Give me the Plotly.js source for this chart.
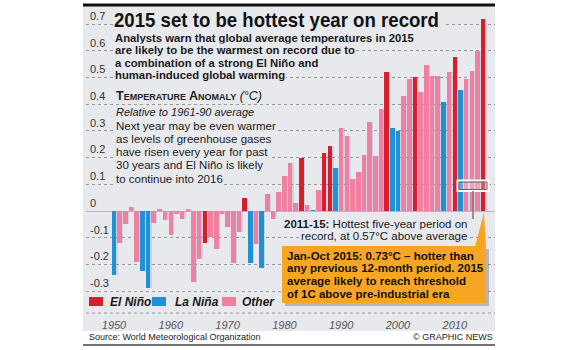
<!DOCTYPE html>
<html><head><meta charset="utf-8">
<script src="https://cdn.plot.ly/plotly-3.0.1.min.js"></script>
<style>html,body{margin:0;padding:0;background:#fff}</style>
</head><body><div id="chart" style="width:580px;height:350px"></div>
<script>
// ---- data ----
const years = [1950,1951,1952,1953,1954,1955,1956,1957,1958,1959,
  1960,1961,1962,1963,1964,1965,1966,1967,1968,1969,
  1970,1971,1972,1973,1974,1975,1976,1977,1978,1979,
  1980,1981,1982,1983,1984,1985,1986,1987,1988,1989,
  1990,1991,1992,1993,1994,1995,1996,1997,1998,1999,
  2000,2001,2002,2003,2004,2005,2006,2007,2008,2009,
  2010,2011,2012,2013,2014,2015];
const anomaly = [-0.24,-0.12,-0.05,0.014,-0.19,-0.225,-0.287,-0.044,0.006,-0.035,
  -0.09,-0.012,-0.03,0.006,-0.265,-0.18,-0.12,-0.099,-0.142,-0.013,
  -0.061,-0.195,-0.077,0.047,-0.194,-0.125,-0.215,0.062,-0.03,0.07,
  0.131,0.178,0.031,0.197,0.021,0.005,0.079,0.217,0.245,0.161,
  0.311,0.282,0.119,0.145,0.21,0.335,0.205,0.382,0.519,0.31,
  0.30,0.431,0.494,0.502,0.447,0.547,0.507,0.507,0.408,0.519,
  0.578,0.453,0.493,0.526,0.598,0.718];
const phase = ['L','O','O','O','O','L','L','O','O','O',
  'O','O','O','O','O','O','E','O','O','O',
  'O','O','O','E','L','O','L','O','O','O',
  'O','O','O','E','O','L','O','E','E','L',
  'O','O','O','O','O','O','O','O','E','L',
  'L','O','O','E','O','O','O','O','L','O',
  'E','L','O','O','O','E'];
const categories = ['E','L','O'];
const categoryNames = {E:'El Niño', L:'La Niña', O:'Other'};
const yTicks = [-0.3,-0.2,-0.1,0,0.1,0.2,0.3,0.4,0.5,0.6,0.7];
const yTickText = ['-0.3','-0.2','-0.1','0','0.1','0.2','0.3','0.4','0.5','0.6','0.7'];
const xTicks = [1950,1960,1970,1980,1990,2000,2010];
const xTickText = ['1950','1960','1970','1980','1990','2000','2010'];

// ---- styles ----
const COLORS = {E:'#d81e2c', L:'#2191d6', O:'#f07fa1'};
const PANEL = '#e7e9ed';
const SANS = 'Liberation Sans, Arial, Helvetica, sans-serif';
const TXT = '#1a1a1a';

const W = 580, H = 350, ML = 86, MR = 85, MT = 8, MB = 37;
const PW = W - ML - MR, PH = H - MT - MB;
const X = px => (px - ML) / PW;
const Y = py => (H - MB - py) / PH;

const traces = [];
traces.push({type:'bar', x: years, y: anomaly, width: 0.95, offset: -0.3,
  marker:{color:'rgba(95,135,180,0.22)', line:{width:0}}, hoverinfo:'skip', showlegend:false});
categories.forEach(c => {
  traces.push({type:'bar', name: categoryNames[c], x: years,
    y: anomaly.map((v,i) => phase[i] === c ? v : null),
    width: 0.8, marker:{color: COLORS[c], line:{width:0}}, showlegend:false});
});

const annotations = [];
function ann(text, xpx, ypx, font, opts) {
  annotations.push(Object.assign({text, x: X(xpx), y: Y(ypx), xref:'paper', yref:'paper',
    xanchor:'left', yanchor:'middle', showarrow:false, align:'left',
    bgcolor: PANEL, borderpad: 0,
    font: Object.assign({family: SANS, size: 11.5, color: TXT}, font)}, opts || {}));
}
ann('2015 set to be hottest year on record', 113, 19, {size: 20.5, weight: 'bold', color:'#111'});
const sub = ['Analysts warn that global average temperatures in 2015',
  'are likely to be the warmest on record due to',
  'a combination of a strong El Niño and',
  'human-induced global warming'];
sub.forEach((t,i) => ann(t, 114, 37.5 + i*12.6, {size: 11.3, weight: 'bold'}));
ann('<b>Temperature Anomaly</b> <i>(°C)</i>', 115, 96.5, {size: 12.5, variant:'small-caps', color:'#222'});
ann('<i>Relative to 1961-90 average</i>', 115, 111.5, {size: 11, color:'#222'});
const body = ['Next year may be even warmer','as levels of greenhouse gases',
  'have risen every year for past','30 years and El Niño is likely','to continue into 2016'];
body.forEach((t,i) => ann(t, 115, 125.5 + i*13.3, {size: 11.5}));
ann('<b>2011-15:</b> Hottest five-year period on', 468, 224, {size: 11.5}, {xanchor:'right', align:'right'});
ann('record, at 0.57°C above average', 468, 236, {size: 11.5}, {xanchor:'right', align:'right'});
const orange = ['Jan-Oct 2015: 0.73°C – hotter than','any previous 12-month period. 2015',
  'average likely to reach threshold','of 1C above pre-industrial era'];
orange.forEach((t,i) => ann(t, 286, 255.5 + i*12.8, {size: 11.5, weight:'bold', color:'#111'}, {bgcolor:'rgba(0,0,0,0)'}));
ann('El Niño', 109, 302, {size: 12, weight:'bold', style:'italic'}, {bgcolor:'rgba(0,0,0,0)'});
ann('La Niña', 174, 302, {size: 12, weight:'bold', style:'italic'}, {bgcolor:'rgba(0,0,0,0)'});
ann('Other', 241, 302, {size: 12, weight:'bold', style:'italic'}, {bgcolor:'rgba(0,0,0,0)'});
ann('Source: World Meteorological Organization', 88, 337, {size: 9, color:'#222'}, {bgcolor:'rgba(0,0,0,0)'});
ann('© GRAPHIC NEWS', 494, 337, {size: 9, color:'#222'}, {bgcolor:'rgba(0,0,0,0)', xanchor:'right'});

const shapes = [];
function rect(x0,y0,x1,y1,fill,line,layer) {
  shapes.push({type:'rect', xref:'paper', yref:'paper', x0:X(x0), x1:X(x1), y0:Y(y1), y1:Y(y0),
    fillcolor: fill, line: line || {width:0}, layer: layer || 'above'});
}
function hline(x0,x1,y,color,width,dash) {
  shapes.push({type:'line', xref:'paper', yref:'paper', x0:X(x0), x1:X(x1), y0:Y(y), y1:Y(y),
    line:{color, width, dash: dash || 'solid'}});
}
rect(83, 6, 495, 331, PANEL, null, 'below');
hline(83, 495, 5, '#111', 3);
hline(86, 495, 313, '#9a9a9a', 1, 'dot');
hline(83, 495, 345, '#444', 1.5);
rect(89, 297, 103, 306, COLORS.E);
rect(152, 297, 166, 306, COLORS.L);
rect(222, 297, 236, 306, COLORS.O);
rect(457.5, 180.5, 488.5, 191, 'rgba(255,255,255,0.25)', {color:'#ffffff', width:2});
rect(459, 182, 487, 189.5, 'rgba(0,0,0,0)', {color:'#666', width:1});
shapes.push({type:'line', xref:'paper', yref:'paper', x0:X(473), x1:X(473), y0:Y(191), y1:Y(219),
  line:{color:'#777', width:1.5}});
rect(285, 249, 489, 306, 'rgba(0,0,0,0.22)');
rect(282, 246, 486, 303, '#f6a623');
shapes.push({type:'path', xref:'paper', yref:'paper',
  path:`M ${X(475)} ${Y(247)} L ${X(486)} ${Y(247)} L ${X(484)} ${Y(212)} Z`,
  fillcolor:'#f6a623', line:{width:0}});

const layout = {
  width: W, height: H, margin:{l:ML, r:MR, t:MT, b:MB},
  paper_bgcolor:'#ffffff', plot_bgcolor:'rgba(0,0,0,0)',
  barmode:'overlay', bargap:0, showlegend:false,
  font:{family:SANS, color:TXT},
  xaxis:{range:[1945.07, 2017.08], tickvals:xTicks, ticktext:xTickText, showgrid:false,
    zeroline:false, showline:false, ticks:'', ticklabelstandoff:4,
    tickfont:{family:SANS, size:11, style:'italic', color:'#555'}},
  yaxis:{range:[-0.382, 0.7603], tickvals:yTicks, ticktext:yTickText,
    showgrid:true, gridcolor:'#9a9a9a', griddash:'dot', gridwidth:1,
    zeroline:true, zerolinecolor:'#b4b8be', zerolinewidth:1,
    ticks:'', ticklabelposition:'inside', ticklabelshift:-8, ticklabelstandoff:1,
    tickfont:{family:SANS, size:11, color:'#333'}, showline:false},
  annotations, shapes
};
Plotly.newPlot('chart', traces, layout, {staticPlot:true, displayModeBar:false}).then(gd => {
  // condense the headline to the graphic's narrow bold face
  const g = gd.querySelectorAll('.annotation')[0];
  if (!g) return;
  const t = g.querySelector('text');
  const bg = g.querySelector('rect.bg');
  if (t) { t.setAttribute('textLength', '325'); t.setAttribute('lengthAdjust', 'spacingAndGlyphs'); }
  if (bg) bg.setAttribute('width', '330');
});
</script></body></html>
